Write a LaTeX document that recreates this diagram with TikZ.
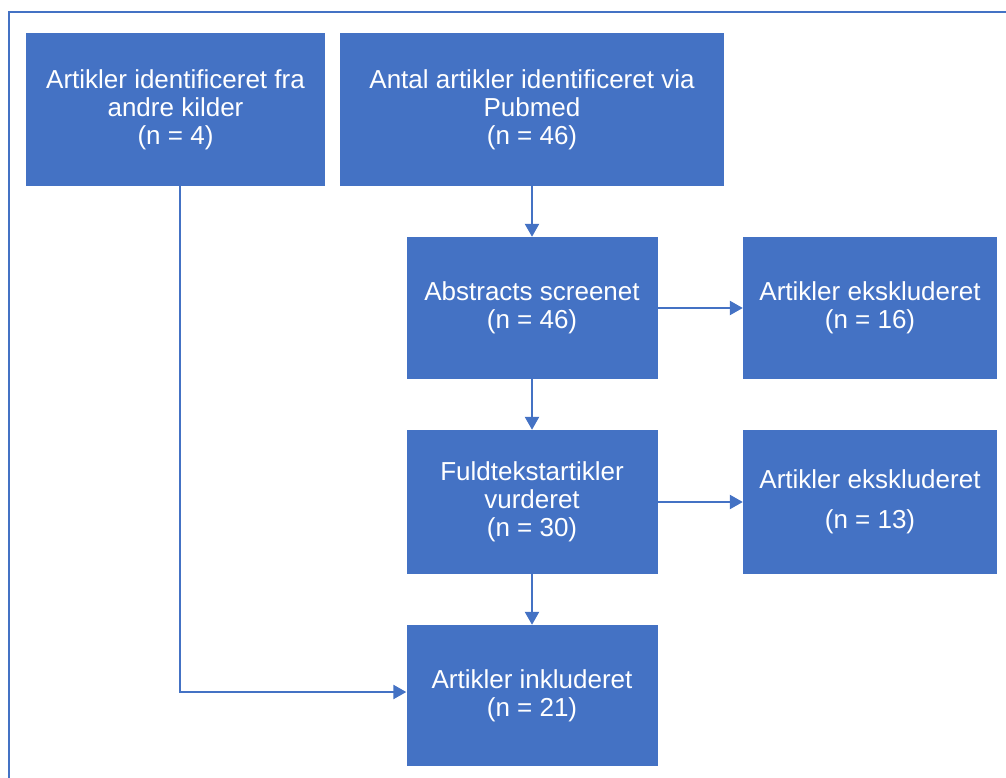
\documentclass[tikz,border=0pt]{standalone}
\usepackage{fontspec}
\setmainfont{Liberation Sans}
\usetikzlibrary{arrows.meta}
\definecolor{ofblue}{HTML}{4472C4}
\begin{document}
\begin{tikzpicture}[x=1pt,y=-1pt,
  boxstyle/.style={fill=ofblue,draw=none,text=white,align=center,
    font=\fontsize{26}{28}\selectfont,inner sep=0pt},
  conn/.style={draw=ofblue,line width=2.4pt,-{Triangle[length=13pt,width=14pt]}}]
\useasboundingbox (0,0) rectangle (1006,778);
\draw[ofblue,line width=2.2pt] (1006,12) -- (9,12) -- (9,778);
% boxes
\node[boxstyle,minimum width=299pt,minimum height=153pt] (A) at (175.5,109.5)
  {Artikler identificeret fra\\andre kilder\\(n = 4)};
\node[boxstyle,minimum width=384pt,minimum height=153pt] (B) at (532,109.5)
  {Antal artikler identificeret via\\Pubmed\\(n = 46)};
\node[boxstyle,minimum width=251pt,minimum height=142pt] (C) at (532,308)
  {Abstracts screenet\\(n = 46)};
\node[boxstyle,minimum width=254pt,minimum height=142pt] (D) at (870,308)
  {Artikler ekskluderet\\(n = 16)};
\node[boxstyle,minimum width=251pt,minimum height=144pt] (E) at (532,502)
  {Fuldtekstartikler\\vurderet\\(n = 30)};
\node[boxstyle,minimum width=254pt,minimum height=144pt] (F) at (870,502)
  {Artikler ekskluderet\\[12pt](n = 13)};
\node[boxstyle,minimum width=251pt,minimum height=141pt] (G) at (532,695.5)
  {Artikler inkluderet\\(n = 21)};
% connectors
\draw[conn] (B.south) -- (C.north);
\draw[conn] (C.south) -- (E.north);
\draw[conn] (E.south) -- (G.north);
\draw[conn] (C.east) -- (D.west);
\draw[conn] (E.east) -- (F.west);
\coordinate (corner) at (180,692);
\draw[conn] (A.south -| corner) -- (corner) -- (G.west |- corner);
\end{tikzpicture}
\end{document}
